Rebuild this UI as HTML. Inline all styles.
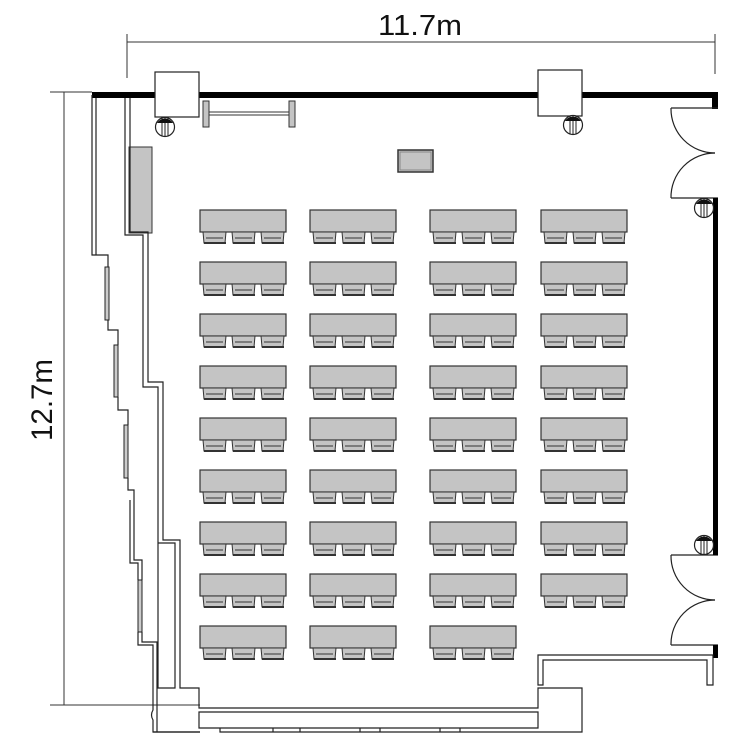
<!DOCTYPE html>
<html><head><meta charset="utf-8"><style>html,body{margin:0;padding:0;background:#fff}svg{display:block}</style></head>
<body>
<svg width="750" height="750" viewBox="0 0 750 750" xmlns="http://www.w3.org/2000/svg" font-family="Liberation Sans, sans-serif">
<defs>
<g id="t">
<rect x="0" y="0" width="86" height="22" fill="#c4c4c4" stroke="#333" stroke-width="1.2"/>
<g fill="#c4c4c4" stroke="#333" stroke-width="1">
<path d="M3 22 L4 33 L25 33 L26 22 Z"/><path d="M6 28 L23 28"/><path d="M4 33 L26 33" stroke-width="2"/>
<path d="M32 22 L33 33 L54 33 L55 22 Z"/><path d="M35 28 L52 28"/><path d="M33 33 L55 33" stroke-width="2"/>
<path d="M61 22 L62 33 L83 33 L84 22 Z"/><path d="M64 28 L81 28"/><path d="M62 33 L84 33" stroke-width="2"/>
</g>
</g>
<g id="c"><circle r="9.5" fill="#fff" stroke="#222" stroke-width="1.2"/><path d="M-3 -9 V9 M0 -9.5 V9.5 M3 -9 V9" stroke="#222" stroke-width="1"/><path d="M-8 -4 A9.5 9.5 0 0 1 8 -4 Z" fill="#111"/></g>
</defs>

<!-- dimensions -->
<g stroke="#333" stroke-width="1" fill="none">
<path d="M127 42 H715 M127 34 V78 M715 34 V74"/>
<path d="M64 92 V705 M50 92 H92 M50 705 H200"/>
</g>
<text x="420" y="35" font-size="29" text-anchor="middle" fill="#111" textLength="84" lengthAdjust="spacingAndGlyphs">11.7m</text>
<text transform="translate(52,400) rotate(-90)" font-size="30" text-anchor="middle" fill="#111" textLength="82" lengthAdjust="spacingAndGlyphs">12.7m</text>

<!-- top wall -->
<rect x="92" y="92" width="626" height="6" fill="#000"/>
<rect x="712" y="92" width="6" height="17" fill="#000"/>
<rect x="155" y="72" width="44" height="45" fill="#fff" stroke="#222" stroke-width="1.2"/>
<rect x="538" y="70" width="44" height="46" fill="#fff" stroke="#222" stroke-width="1.2"/>
<use href="#c" x="165" y="127"/>
<use href="#c" x="573" y="125"/>
<!-- whiteboard -->
<rect x="203" y="101" width="6" height="26" fill="#c4c4c4" stroke="#333"/>
<rect x="289" y="101" width="6" height="26" fill="#c4c4c4" stroke="#333"/>
<path d="M209 112 H289 M209 115 H289" stroke="#333" stroke-width="1"/>
<!-- podium -->
<rect x="398" y="150" width="35" height="22" fill="#c4c4c4" stroke="#333" stroke-width="1.5"/>
<rect x="400" y="152" width="31" height="18" fill="none" stroke="#888" stroke-width="1"/>
<!-- gray cabinet -->
<rect x="129" y="147" width="23" height="86" fill="#c4c4c4" stroke="#333"/>

<!-- right wall and doors -->
<g stroke="#222" fill="none" stroke-width="1.2">
<path d="M671 108 H718"/>
<path d="M671 108 A44 44 0 0 0 715 153"/>
<path d="M715 153 A44 44 0 0 0 671 198"/>
<path d="M671 198 H718"/>
<path d="M671 555 H718"/>
<path d="M671 555 A44 44 0 0 0 715 600"/>
<path d="M715 600 A44 44 0 0 0 671 645"/>
<path d="M671 645 H718"/>
</g>
<rect x="713" y="198" width="5" height="357" fill="#000"/>
<rect x="713" y="645" width="5" height="13" fill="#000"/>
<use href="#c" x="704" y="208"/>
<use href="#c" x="704" y="545"/>

<!-- left walls -->
<g stroke="#222" fill="none" stroke-width="1.2">
<path d="M92 95 V255 H108 V267 M96 98 V255"/>
<path d="M108 320 V330 H118 V345 M118 397 V410 H128 V425 M128 478 V490 H134 V500 M134 500 V560 H142 V580 M142 632 V642 H157 V732 M130 500 V563 H138 V580 M138 632 V645 H153 V710 Q150 715 153 720 V732 H200"/>
<path d="M125 98 V235 H143 V387 H158 V543 H175 V688 H158 V543 M130 98 V232 H148 V382 H163 V540 H180 V688 H199 V708 H538 V688 H582 V732 H540"/>
<path d="M153 732 H200"/>
<path d="M538 655 H713 V685 H707 V660 H543 V685 H538 Z"/>
<path d="M199 712 H538 V728 H199 Z"/>
<path d="M220 728 V732 H540 M273 728 V732 M300 728 V732 M360 728 V732 M380 728 V732 M440 728 V732 M460 728 V732"/>
</g>
<g fill="#ccc" stroke="#222" stroke-width="1">
<rect x="105" y="267" width="4" height="53"/>
<rect x="114" y="345" width="4" height="52"/>
<rect x="124" y="425" width="4" height="53"/>
<rect x="138" y="580" width="4" height="52"/>
</g>

<!-- tables -->
<g>
<use href="#t" x="200" y="210"/><use href="#t" x="310" y="210"/><use href="#t" x="430" y="210"/><use href="#t" x="541" y="210"/>
<use href="#t" x="200" y="262"/><use href="#t" x="310" y="262"/><use href="#t" x="430" y="262"/><use href="#t" x="541" y="262"/>
<use href="#t" x="200" y="314"/><use href="#t" x="310" y="314"/><use href="#t" x="430" y="314"/><use href="#t" x="541" y="314"/>
<use href="#t" x="200" y="366"/><use href="#t" x="310" y="366"/><use href="#t" x="430" y="366"/><use href="#t" x="541" y="366"/>
<use href="#t" x="200" y="418"/><use href="#t" x="310" y="418"/><use href="#t" x="430" y="418"/><use href="#t" x="541" y="418"/>
<use href="#t" x="200" y="470"/><use href="#t" x="310" y="470"/><use href="#t" x="430" y="470"/><use href="#t" x="541" y="470"/>
<use href="#t" x="200" y="522"/><use href="#t" x="310" y="522"/><use href="#t" x="430" y="522"/><use href="#t" x="541" y="522"/>
<use href="#t" x="200" y="574"/><use href="#t" x="310" y="574"/><use href="#t" x="430" y="574"/><use href="#t" x="541" y="574"/>
<use href="#t" x="200" y="626"/><use href="#t" x="310" y="626"/><use href="#t" x="430" y="626"/>
</g>
</svg>
</body></html>
